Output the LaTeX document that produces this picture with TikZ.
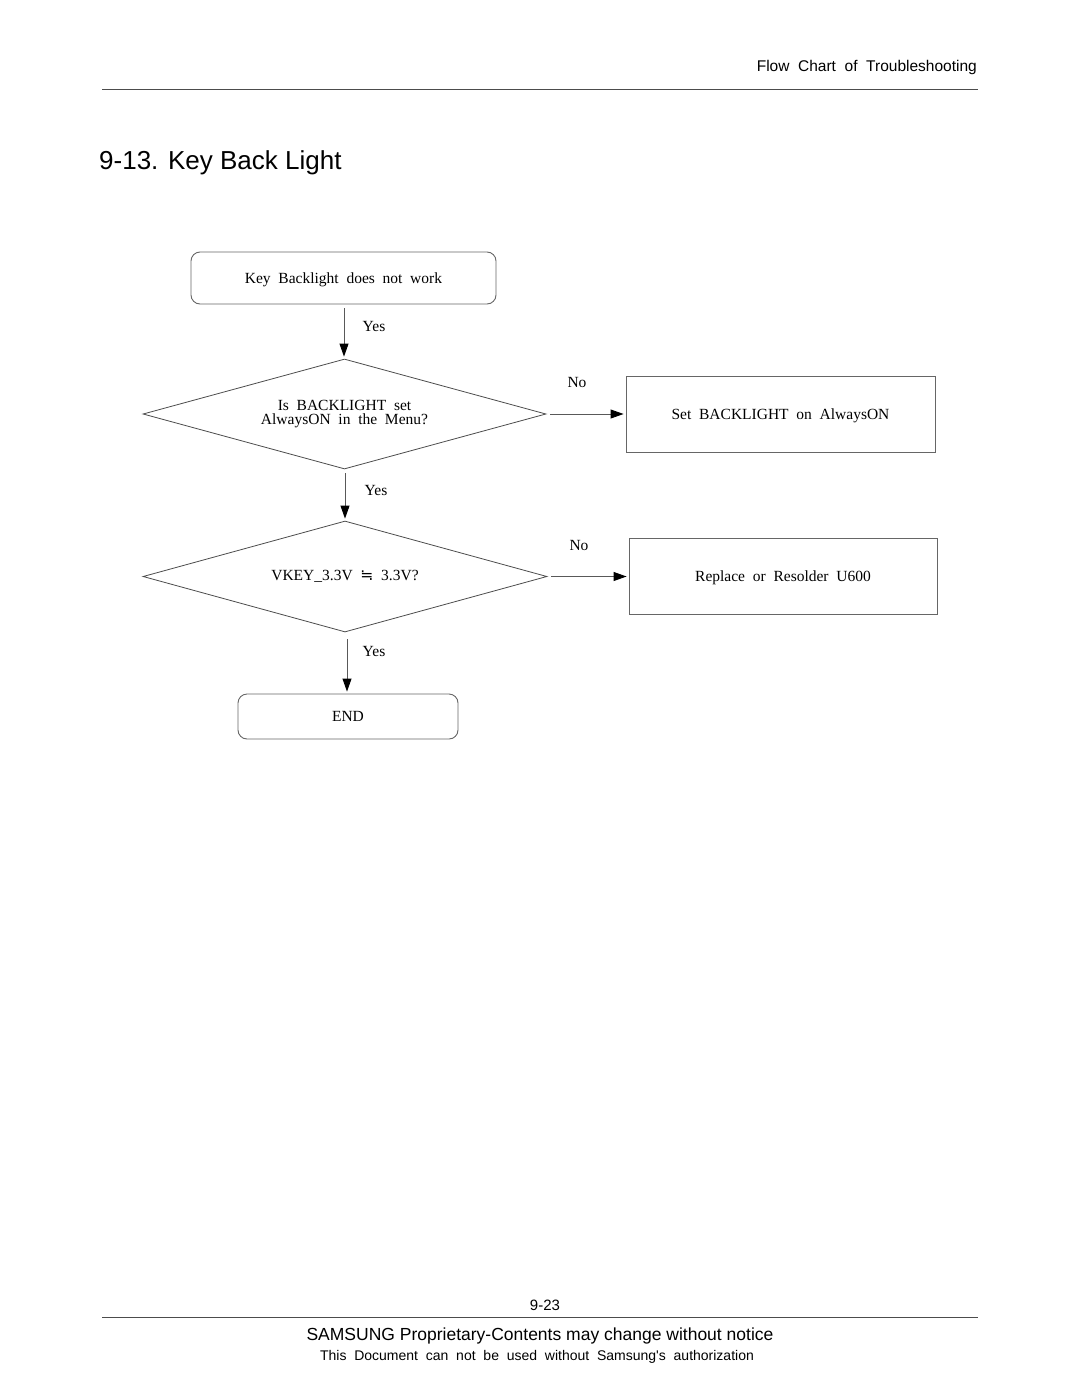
\documentclass[tikz,border=0pt]{standalone}
\usepackage{fontspec}
\setmainfont{Liberation Serif}[WordSpace=2]
\setsansfont{Liberation Sans}
\newfontfamily\widesans{Liberation Sans}[WordSpace=2]
\newfontfamily\symfont{DejaVu Sans}
\usetikzlibrary{shapes.geometric,arrows.meta}
\begin{document}
\begin{tikzpicture}[x=1pt,y=-1pt,
  edge/.style={draw=black!65,line width=0.9pt},
  boxstyle/.style={draw=black!60,line width=0.9pt,inner sep=0pt,text height=11pt,text depth=1pt,font=\fontsize{15.5}{17}\selectfont},
  rbox/.style={boxstyle,rounded corners=9pt},
  dia/.style={draw=black!70,line width=0.8pt,shape=diamond,inner sep=0pt,aspect=3.66,font=\fontsize{15.5}{14}\selectfont,align=center},
  conn/.style={edge,-{Triangle[length=13pt,width=9pt,black]},shorten <=4pt,shorten >=2pt},
  lab/.style={font=\fontsize{15.5}{17}\selectfont,inner sep=0pt}
]
\useasboundingbox (0,0) rectangle (1080,1397);
% header
\node[font=\widesans\fontsize{15.5}{18}\selectfont,anchor=east,inner sep=0pt] (hdr) at (977,67) {Flow Chart of Troubleshooting};
\draw[black!70,line width=1pt] (102,89) coordinate (hl) -- (978,89) coordinate (hr);
\node[font=\sffamily\fontsize{26}{30}\selectfont,anchor=west,inner sep=0pt] (title) at (99,163) {9-13. Key Back Light};
% nodes
\node[rbox,minimum width=305pt,minimum height=52pt] (start) at (343.5,278) {Key Backlight does not work};
\node[dia,minimum width=403pt,minimum height=110pt] (d1) at (344.5,414) {Is BACKLIGHT set\\AlwaysON in the Menu?};
\node[boxstyle,minimum width=309pt,minimum height=76pt] (b1) at (780.5,414) {Set BACKLIGHT on AlwaysON};
\node[dia,minimum width=404pt,minimum height=111pt] (d2) at (345,576.5) {VKEY\_3.3V {\symfont ≒} 3.3V?};
\node[boxstyle,minimum width=308pt,minimum height=76pt] (b2) at (783,576.5) {Replace or Resolder U600};
\node[rbox,minimum width=220pt,minimum height=45pt] (endn) at (348,716.5) {END};
% connectors
\draw[conn] (start.south -| 344,0) -- (d1.north -| 344,0);
\node[lab] (y1) at (374,326) {Yes};
\draw[conn] (d1.east) -- (b1.west);
\node[lab] (n1) at (577,382) {No};
\draw[conn] (d1.south -| 345,0) -- (d2.north -| 345,0);
\node[lab] (y2) at (376,490) {Yes};
\draw[conn] (d2.east) -- (b2.west);
\node[lab] (n2) at (579,545) {No};
\draw[conn,shorten <=7pt] (d2.south -| 347,0) -- (endn.north -| 347,0);
\node[lab] (y3) at (374,651) {Yes};
% footer
\node[font=\sffamily\fontsize{15}{18}\selectfont,inner sep=0pt] (pg) at (545,1305) {9-23};
\draw[black!70,line width=1pt] (102,1317) coordinate (fl) -- (978,1317) coordinate (fr);
\node[font=\sffamily\fontsize{17.5}{20}\selectfont,inner sep=0pt] (f1) at (540,1336) {SAMSUNG Proprietary-Contents may change without notice};
\node[font=\widesans\fontsize{14}{16}\selectfont,inner sep=0pt] (f2) at (537,1357) {This Document can not be used without Samsung's authorization};
\end{tikzpicture}
\end{document}
